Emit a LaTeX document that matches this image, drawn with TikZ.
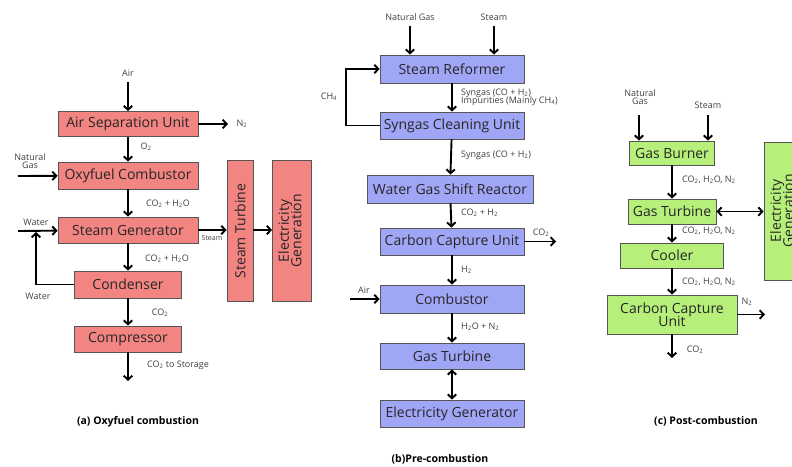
\documentclass[tikz,border=0pt]{standalone}
\usepackage{fontspec}
\setmainfont{Open Sans}
\usepackage{graphicx}
\usetikzlibrary{arrows.meta}

\definecolor{redfill}{RGB}{242,132,130}
\definecolor{bluefill}{RGB}{160,166,246}
\definecolor{greenfill}{RGB}{182,240,122}
\definecolor{edge}{RGB}{85,85,85}

\begin{document}
\begin{tikzpicture}[x=1pt,y=-1pt,>={Straight Barb[length=4pt,width=8.5pt]}]

    \tikzstyle{block} = [draw=edge, line width=0.8pt, rectangle, inner sep=0pt, align=center, text=black!85, font=\fontsize{14}{15.5}\selectfont]
    \tikzstyle{redbox} = [block, fill=redfill]
    \tikzstyle{bluebox} = [block, fill=bluefill]
    \tikzstyle{greenbox} = [block, fill=greenfill]
    \tikzstyle{lbl} = [inner sep=0pt, align=center, font=\fontsize{9}{10}\selectfont, text=black!75]
    \tikzstyle{ttl} = [inner sep=0pt, font=\fontsize{10.5}{12}\selectfont\bfseries]
    \tikzstyle{flow} = [->, line width=1.9pt]

    \useasboundingbox (0,0) rectangle (792,466);

    % (a) oxyfuel
    \node[redbox, minimum width=140, minimum height=25] (asu) at (128,124) {Air Separation Unit};
    \node[redbox, minimum width=140, minimum height=27] (oxy) at (128,175.5) {Oxyfuel Combustor};
    \node[redbox, minimum width=140, minimum height=26] (sg) at (128,230) {Steam Generator};
    \node[redbox, minimum width=107, minimum height=27] (cond) at (128,284.5) {Condenser};
    \node[redbox, minimum width=107, minimum height=26] (comp) at (128,339) {Compressor};
    \node[redbox, minimum width=26, minimum height=141] (st) at (240,231) {\rotatebox{90}{Steam Turbine}};
    \node[redbox, minimum width=39, minimum height=141] (eg) at (292,231) {\rotatebox{90}{\begin{tabular}{@{}c@{}}Electricity\\[-3pt]Generation\end{tabular}}};

    \node[lbl] (lair) at (128,73) {Air};
    \coordinate (airin) at (128,82);
    \coordinate (n2out) at (228,124);
    \node[lbl] (ln2) at (242,124) {N\textsubscript{2}};
    \node[lbl] (lo2) at (146,147) {O\textsubscript{2}};
    \node[lbl] (lng) at (30,161) {Natural\\[-2pt]Gas};
    \coordinate (ngin) at (18,176);
    \node[lbl] (lc1) at (168,204) {CO\textsubscript{2} + H\textsubscript{2}O};
    \node[lbl] (lw1) at (36,222) {Water};
    \coordinate (win) at (18,231);
    \coordinate (wj) at (36,232);
    \node[lbl, font=\fontsize{7}{8}\selectfont] (lsteam) at (212,238) {Steam};
    \node[lbl] (lc2) at (167,259) {CO\textsubscript{2} + H\textsubscript{2}O};
    \node[lbl] (lw2) at (38,296) {Water};
    \node[lbl] (lc3) at (160,313) {CO\textsubscript{2}};
    \node[lbl] (lc4) at (178,365) {CO\textsubscript{2} to Storage};
    \coordinate (store) at (128,381);
    \node[ttl] (ta) at (138,422) {(a) Oxyfuel combustion};

    \draw[flow] (airin) -- (asu);
    \draw[flow] (asu) -- (n2out);
    \draw[flow] (asu) -- (oxy);
    \draw[flow] (ngin) -- (oxy);
    \draw[flow] (oxy) -- (sg);
    \draw[flow] (win) -- (sg);
    \draw[flow] (sg) -- (cond);
    \draw[flow] (cond.west) -| (wj);
    \draw[flow] (sg.east) -- (sg.east -| st.west);
    \draw[flow] (st.east |- sg.east) -- (sg.east -| eg.west);
    \draw[flow] (cond) -- (comp);
    \draw[flow] (comp) -- (store);

    % (b) pre-combustion
    \node[bluebox, minimum width=144, minimum height=28] (sr) at (452,69) {Steam Reformer};
    \node[bluebox, minimum width=144, minimum height=27] (scu) at (452,125.5) {Syngas Cleaning Unit};
    \node[bluebox, minimum width=166, minimum height=28] (wgs) at (450,189) {Water Gas Shift Reactor};
    \node[bluebox, minimum width=144, minimum height=27] (ccu) at (452,241.5) {Carbon Capture Unit};
    \node[bluebox, minimum width=144, minimum height=28] (cmb) at (452,299) {Combustor};
    \node[bluebox, minimum width=144, minimum height=26] (gt) at (452,356) {Gas Turbine};
    \node[bluebox, minimum width=144, minimum height=27] (egn) at (452,413.5) {Electricity Generator};

    \node[lbl] (lngb) at (410,17) {Natural Gas};
    \node[lbl] (lstb) at (494,17) {Steam};
    \coordinate (ngb) at (410,26);
    \coordinate (stb) at (494,26);
    \coordinate (ch4) at (346,69);
    \node[lbl] (lch4) at (329,97) {CH\textsubscript{4}};
    \node[lbl, anchor=west, align=left] (lsyn1) at (461,97) {Syngas (CO + H\textsubscript{2})\\[-2pt]Impurities (Mainly CH\textsubscript{4})};
    \node[lbl, anchor=west] (lsyn2) at (461,155) {Syngas (CO + H\textsubscript{2})};
    \node[lbl, anchor=west] (lch2) at (461,213) {CO\textsubscript{2} + H\textsubscript{2}};
    \node[lbl] (lco2b) at (541,233) {CO\textsubscript{2}};
    \coordinate (co2b) at (556,241.5);
    \node[lbl, anchor=west] (lh2) at (461,270) {H\textsubscript{2}};
    \node[lbl] (lairb) at (364,290) {Air};
    \coordinate (airb) at (350,299);
    \node[lbl, anchor=west] (lhn) at (461,327) {H\textsubscript{2}O + N\textsubscript{2}};
    \node[ttl] (tb) at (440,459) {(b)Pre-combustion};

    \draw[flow] (ngb) -- (ngb |- sr.north);
    \draw[flow] (stb) -- (stb |- sr.north);
    \draw[flow] (sr) -- (scu);
    \draw[flow] (scu.west) -| (ch4) -- (sr.west);
    \draw[flow] (scu) -- (wgs);
    \draw[flow] (wgs) -- (ccu);
    \draw[flow] (ccu) -- (co2b);
    \draw[flow] (ccu) -- (cmb);
    \draw[flow] (airb) -- (cmb);
    \draw[flow] (cmb) -- (gt);
    \draw[flow, <->] (gt) -- (egn);

    % (c) post-combustion
    \node[greenbox, minimum width=85, minimum height=24] (gb) at (672,153) {Gas Burner};
    \node[greenbox, minimum width=88, minimum height=25] (gtc) at (672,211.5) {Gas Turbine};
    \node[greenbox, minimum width=103, minimum height=25] (cool) at (672,255.5) {Cooler};
    \node[greenbox, minimum width=130, minimum height=39] (ccc) at (672,314.5) {Carbon Capture\\[-3pt]Unit};
    \node[greenbox, minimum width=40, minimum height=138] (egc) at (784,211) {\rotatebox{90}{\begin{tabular}{@{}c@{}}Electricity\\[-3pt]Generation\end{tabular}}};

    \node[lbl] (lngc) at (640,97) {Natural\\[-2pt]Gas};
    \node[lbl] (lstc) at (708,105) {Steam};
    \coordinate (ngc) at (639,115);
    \coordinate (stc) at (708,115);
    \node[lbl, anchor=west] (lx1) at (682,180) {CO\textsubscript{2}, H\textsubscript{2}O, N\textsubscript{2}};
    \node[lbl, anchor=west] (lx2) at (682,231) {CO\textsubscript{2}, H\textsubscript{2}O, N\textsubscript{2}};
    \node[lbl, anchor=west] (lx3) at (682,282) {CO\textsubscript{2}, H\textsubscript{2}O, N\textsubscript{2}};
    \node[lbl] (ln2c) at (747,302) {N\textsubscript{2}};
    \coordinate (n2c) at (765,314.5);
    \node[lbl] (lco2c) at (695,350) {CO\textsubscript{2}};
    \coordinate (co2c) at (672,358);
    \node[ttl] (tc) at (706,421) {(c) Post-combustion};

    \draw[flow] (ngc) -- (ngc |- gb.north);
    \draw[flow] (stc) -- (stc |- gb.north);
    \draw[flow] (gb) -- (gtc);
    \draw[flow, <->] (gtc.east) -- (gtc.east -| egc.west);
    \draw[flow] (gtc) -- (cool);
    \draw[flow] (cool) -- (ccc);
    \draw[flow] (ccc) -- (n2c);
    \draw[flow] (ccc) -- (co2c);
\end{tikzpicture}
\end{document}
